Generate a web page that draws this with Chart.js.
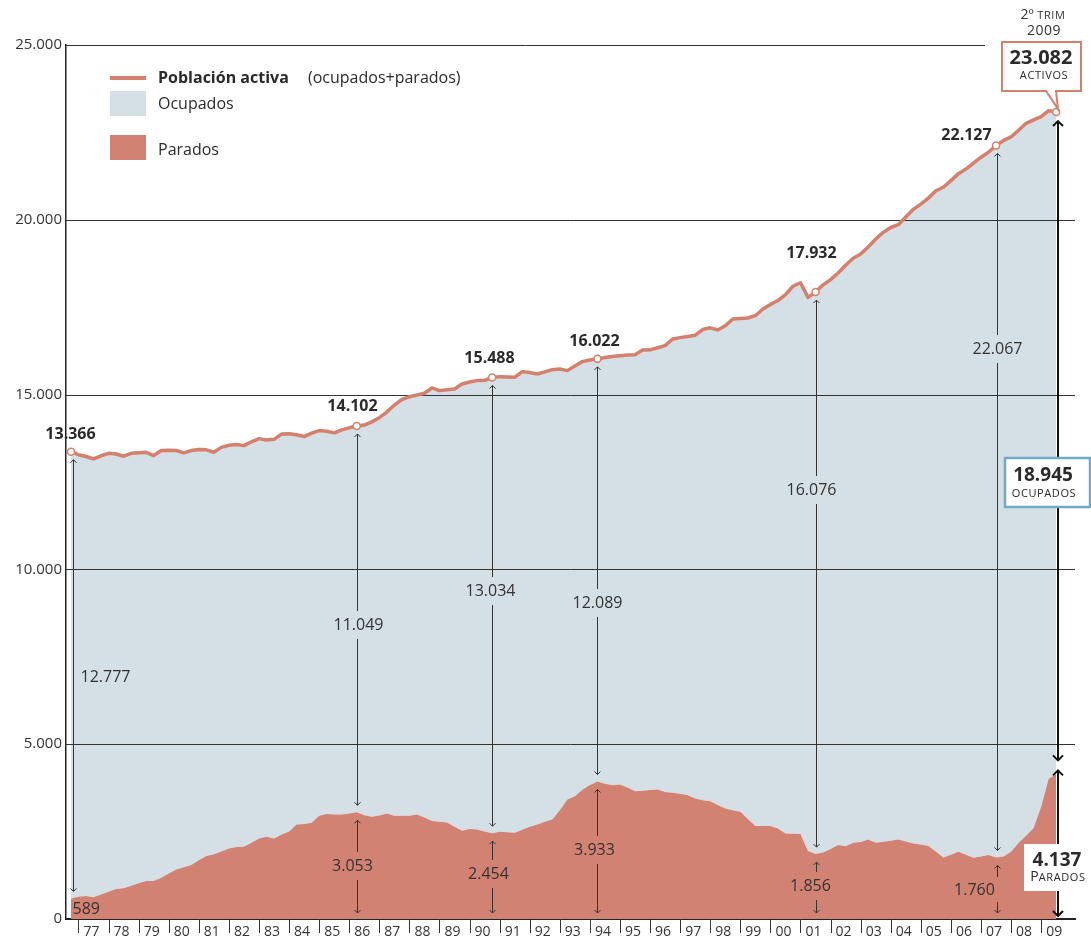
<!DOCTYPE html>
<html>
<head>
<meta charset="utf-8">
<script src="https://cdn.jsdelivr.net/npm/chart.js@4/dist/chart.umd.min.js"></script>
<style>
  html, body { margin: 0; padding: 0; background: #fff; }
  canvas { display: block; }
</style>
</head>
<body>
<canvas id="chart" width="1091" height="942"></canvas>
<script>
// EPA trimestral, miles de personas, 1976 T3 .. 2009 T2
const yearLabels = ['77','78','79','80','81','82','83','84','85','86','87','88','89','90','91','92','93',
    '94','95','96','97','98','99','00','01','02','03','04','05','06','07','08','09'];

const activa = [
    13366, 13280, 13230, 13160, 13250, 13320, 13300, 13237, 13320, 13340,
    13350, 13257, 13400, 13410, 13400, 13333, 13400, 13430, 13420, 13351,
    13490, 13550, 13570, 13540, 13650, 13740, 13700, 13720, 13870, 13880,
    13850, 13800, 13900, 13970, 13950, 13905, 13990, 14050, 14102, 14130,
    14220, 14340, 14500, 14700, 14860, 14940, 14990, 15040, 15190, 15114,
    15140, 15162, 15305, 15360, 15400, 15410, 15488, 15514, 15505, 15495,
    15657, 15630, 15590, 15650, 15714, 15730, 15686, 15820, 15943, 15990,
    16022, 16060, 16090, 16110, 16130, 16143, 16276, 16280, 16340, 16400,
    16590, 16630, 16660, 16700, 16860, 16910, 16850, 16970, 17162, 17180,
    17190, 17257, 17450, 17580, 17690, 17860, 18100, 18200, 17781, 17932,
    18140, 18290, 18480, 18700, 18900, 19020, 19220, 19450, 19640, 19780,
    19860, 20080, 20300, 20450, 20620, 20830, 20930, 21120, 21320, 21450,
    21620, 21790, 21930, 22127, 22270, 22370, 22560, 22760, 22860, 22950,
    23120, 23082
];

const parados = [
    589, 640, 657, 620, 700, 780, 857, 880, 950, 1020,
    1086, 1086, 1180, 1300, 1419, 1480, 1543, 1680, 1800, 1850,
    1930, 2020, 2060, 2070, 2180, 2300, 2352, 2305, 2420, 2500,
    2705, 2720, 2752, 2952, 3000, 2990, 2990, 3020, 3053, 2970,
    2924, 2960, 3019, 2952, 2950, 2950, 2990, 2900, 2800, 2781,
    2760, 2640, 2524, 2571, 2560, 2500, 2454, 2495, 2480, 2467,
    2550, 2638, 2700, 2780, 2848, 3114, 3419, 3510, 3700, 3830,
    3933, 3870, 3828, 3850, 3760, 3657, 3670, 3690, 3705, 3630,
    3610, 3580, 3543, 3450, 3400, 3371, 3260, 3162, 3110, 3067,
    2860, 2657, 2657, 2657, 2590, 2448, 2440, 2428, 1943, 1856,
    1900, 2000, 2114, 2080, 2181, 2200, 2276, 2181, 2210, 2240,
    2276, 2220, 2162, 2130, 2086, 1930, 1762, 1840, 1924, 1840,
    1752, 1790, 1829, 1760, 1790, 1924, 2180, 2380, 2600, 3210,
    4010, 4137
];

// quarters that get a marker, and the "ocupados" figures as printed on the chart
const markerIdx = [0, 38, 56, 70, 99, 123, 131];
const ocupadosLabels = ['12.777', '11.049', '13.034', '12.089', '16.076', '22.067', '18.945'];

const yTicks = [0, 5000, 10000, 15000, 20000, 25000];

const SALMON = '#d4806d';
const RED = '#d28272';
const BLUE = '#d4dfe6';
const INK = '#2a2a2a';
const FONT = '"Open Sans", "Noto Sans", sans-serif';

const fmt = v => String(Math.round(v)).replace(/\B(?=(\d{3})+(?!\d))/g, '.');

// per-marker label placement (pixel offsets)
const place = [
    { dx: 2,  act: [-3, -17],  ocup: { y: 677, dx: 7, align: 'left' }, par: { y: 909, dx: -1, align: 'left', noArrow: true } },
    { dx: 0,  act: [-5, -20],  ocup: { y: 625, dx: 1 },  par: { y: 866, dx: -5 } },
    { dx: 0,  act: [-3, -19],  ocup: { y: 591, dx: -2 }, par: { y: 874, dx: -4 } },
    { dx: 0,  act: [-3, -17],  ocup: { y: 603, dx: 0 },  par: { y: 850, dx: -3 } },
    { dx: 0,  act: [-5, -39],  ocup: { y: 490, dx: -5 }, par: { y: 886, dx: -6 } },
    { dx: 1,  act: [-31, -10], ocup: { y: 349, dx: 0 },  par: { y: 890, dx: -23, offside: true } }
];

function line(ctx, x1, y1, x2, y2) {
    ctx.beginPath();
    ctx.moveTo(x1, y1);
    ctx.lineTo(x2, y2);
    ctx.stroke();
}

function head(ctx, x, y, dir, s) {
    ctx.beginPath();
    ctx.moveTo(x - s, y - dir * s);
    ctx.lineTo(x, y);
    ctx.lineTo(x + s, y - dir * s);
    ctx.stroke();
}

// vertical double arrow with an optional gap for its label
function arrow(ctx, x, y1, y2, gap, s) {
    if (gap) {
        line(ctx, x, y1, x, gap[0]);
        line(ctx, x, gap[1], x, y2);
    } else {
        line(ctx, x, y1, x, y2);
    }
    head(ctx, x, y1, -1, s);
    head(ctx, x, y2, 1, s);
}

const annotations = {
    id: 'annotations',
    beforeDatasetsDraw(chart) {
        const { ctx, chartArea: a, scales: { y } } = chart;
        ctx.save();
        ctx.strokeStyle = '#333';
        ctx.lineWidth = 1;
        yTicks.slice(1).forEach(v => {
            const py = Math.round(y.getPixelForValue(v)) + 0.5;
            line(ctx, a.left, py, v === 25000 ? 985 : a.right, py);
        });
        ctx.restore();
    },
    afterDatasetsDraw(chart) {
        const { ctx, chartArea: a, scales: { x, y } } = chart;
        ctx.save();

        // year tick marks under the axis
        ctx.strokeStyle = '#333';
        ctx.lineWidth = 1;
        x.ticks.forEach(t => {
            const px = Math.round(x.getPixelForValue(t.value)) + 0.5;
            line(ctx, px, a.bottom, px, a.bottom + 14);
        });

        // legend
        ctx.fillStyle = SALMON;
        ctx.fillRect(110, 76, 36, 4);
        ctx.fillStyle = BLUE;
        ctx.fillRect(110, 91, 36, 25);
        ctx.fillStyle = RED;
        ctx.fillRect(110, 135, 36, 25);
        ctx.textBaseline = 'middle';
        ctx.textAlign = 'left';
        ctx.fillStyle = INK;
        ctx.font = 'bold 16px ' + FONT;
        ctx.fillText('Población activa', 158, 78);
        ctx.font = '16px ' + FONT;
        ctx.fillText('(ocupados+parados)', 308, 78);
        ctx.fillText('Ocupados', 158, 104);
        ctx.fillText('Parados', 158, 150);

        // marker annotations
        place.forEach((p, k) => {
            const i = markerIdx[k];
            const px = Math.round(x.getPixelForValue(i)) + p.dx + 0.5;
            const yAct = y.getPixelForValue(activa[i]);
            const yPar = y.getPixelForValue(parados[i]);
            const y0 = y.getPixelForValue(0);

            ctx.textAlign = 'center';
            ctx.fillStyle = INK;
            ctx.font = 'bold 16px ' + FONT;
            ctx.fillText(fmt(activa[i]), px + p.act[0], yAct + p.act[1]);

            ctx.strokeStyle = '#333';
            ctx.lineWidth = 1;
            const oTop = yAct + 8, oBot = yPar - 7;
            if (p.ocup.align === 'left') {
                arrow(ctx, px, oTop, oBot, null, 3);
            } else {
                arrow(ctx, px, oTop, oBot, [p.ocup.y - 14, p.ocup.y + 14], 3);
            }
            ctx.font = '16px ' + FONT;
            ctx.fillStyle = '#333';
            ctx.textAlign = p.ocup.align || 'center';
            ctx.fillText(ocupadosLabels[k], px + p.ocup.dx, p.ocup.y);

            if (!p.par.noArrow) {
                const pTop = yPar + 8, pBot = y0 - 6;
                const gap = p.par.offside ? [p.par.y - 13, p.par.y + 12] : [p.par.y - 14, p.par.y + 14];
                arrow(ctx, px, pTop, pBot, gap, 3);
            }
            ctx.textAlign = p.par.align || 'center';
            ctx.fillText(fmt(parados[i]), px + p.par.dx, p.par.y);
        });

        // last quarter: big arrows and boxes
        const iL = markerIdx[markerIdx.length - 1];
        const xL = Math.round(x.getPixelForValue(iL)) + 2;
        const yActL = y.getPixelForValue(activa[iL]);
        const yParL = y.getPixelForValue(parados[iL]);
        ctx.strokeStyle = '#111';
        ctx.lineWidth = 2;
        arrow(ctx, xL, yActL + 9, yParL - 14, null, 5);
        arrow(ctx, xL, yParL - 4, a.bottom - 3, null, 5);

        // activos callout
        ctx.fillStyle = '#fff';
        ctx.strokeStyle = SALMON;
        ctx.lineWidth = 2;
        ctx.beginPath();
        ctx.moveTo(1002, 42);
        ctx.lineTo(1081, 42);
        ctx.lineTo(1081, 91);
        ctx.lineTo(1056, 91);
        ctx.lineTo(1058, yActL - 3);
        ctx.lineTo(1046, 91);
        ctx.lineTo(1002, 91);
        ctx.closePath();
        ctx.fill();
        ctx.stroke();

        ctx.fillStyle = INK;
        ctx.textAlign = 'center';
        ctx.font = 'bold 20px ' + FONT;
        ctx.fillText(fmt(activa[iL]), 1041, 58);
        ctx.font = '11px ' + FONT;
        ctx.letterSpacing = '0.6px';
        ctx.fillText('ACTIVOS', 1044, 76);

        // 2º TRIM 2009
        ctx.fillStyle = '#333';
        ctx.font = '14px ' + FONT;
        ctx.letterSpacing = '0px';
        const w1 = ctx.measureText('2º').width;
        ctx.font = '11px ' + FONT;
        ctx.letterSpacing = '0.6px';
        const w2 = ctx.measureText(' TRIM').width;
        let sx = 1043 - (w1 + w2) / 2;
        ctx.textAlign = 'left';
        ctx.font = '14px ' + FONT;
        ctx.letterSpacing = '0px';
        ctx.fillText('2º', sx, 15);
        ctx.font = '11px ' + FONT;
        ctx.letterSpacing = '0.6px';
        ctx.fillText(' TRIM', sx + w1, 16);
        ctx.textAlign = 'center';
        ctx.font = '14px ' + FONT;
        ctx.letterSpacing = '0.5px';
        ctx.fillText('2009', 1044, 31);

        // ocupados box
        ctx.fillStyle = '#fff';
        ctx.strokeStyle = '#72a9c3';
        ctx.lineWidth = 2.5;
        ctx.fillRect(1005, 458, 85, 49);
        ctx.strokeRect(1005, 458, 85, 49);
        ctx.fillStyle = INK;
        ctx.letterSpacing = '0px';
        ctx.font = 'bold 19px ' + FONT;
        ctx.fillText(ocupadosLabels[ocupadosLabels.length - 1], 1043, 476);
        ctx.font = '11px ' + FONT;
        ctx.letterSpacing = '0.6px';
        ctx.fillText('OCUPADOS', 1044, 494);

        // parados box
        ctx.fillStyle = '#fff';
        ctx.fillRect(1024, 844, 67, 47);
        ctx.fillStyle = INK;
        ctx.letterSpacing = '0px';
        ctx.font = 'bold 19px ' + FONT;
        ctx.fillText(fmt(parados[iL]), 1057, 861);
        ctx.font = '14px ' + FONT;
        const wP = ctx.measureText('P').width;
        ctx.font = '11px ' + FONT;
        ctx.letterSpacing = '0.6px';
        const wR = ctx.measureText('ARADOS').width;
        sx = 1058 - (wP + wR) / 2;
        ctx.textAlign = 'left';
        ctx.font = '14px ' + FONT;
        ctx.letterSpacing = '0px';
        ctx.fillText('P', sx, 877);
        ctx.font = '11px ' + FONT;
        ctx.letterSpacing = '0.6px';
        ctx.fillText('ARADOS', sx + wP, 878);

        ctx.restore();
    }
};

Chart.defaults.font.family = FONT;
Chart.defaults.color = '#333';

new Chart(document.getElementById('chart'), {
    type: 'line',
    data: {
        datasets: [
            {
                label: 'Parados',
                data: parados.map((v, i) => ({ x: i, y: v })),
                fill: 'origin',
                backgroundColor: RED,
                borderWidth: 0,
                pointRadius: 0,
                tension: 0
            },
            {
                label: 'Población activa',
                data: activa.map((v, i) => ({ x: i, y: v })),
                fill: '-1',
                backgroundColor: BLUE,
                borderColor: SALMON,
                borderWidth: 3.5,
                borderJoinStyle: 'round',
                borderCapStyle: 'round',
                tension: 0,
                pointRadius: ctx => markerIdx.includes(ctx.dataIndex) ? 3.5 : 0,
                pointBackgroundColor: '#fff',
                pointBorderColor: SALMON,
                pointBorderWidth: 1.5
            }
        ]
    },
    options: {
        responsive: false,
        animation: false,
        devicePixelRatio: 1,
        layout: { padding: { top: 45, right: 16, left: 0, bottom: 0 } },
        plugins: {
            legend: { display: false },
            tooltip: { enabled: false },
            filler: { drawTime: 'beforeDatasetsDraw' }
        },
        scales: {
            x: {
                type: 'linear',
                min: -0.66,
                max: 133.5,
                afterBuildTicks: scale => {
                    scale.ticks = yearLabels.map((_, k) => ({ value: 1 + 4 * k }));
                },
                afterFit: scale => { scale.height = 23; },
                ticks: {
                    autoSkip: false,
                    maxRotation: 0,
                    padding: 5,
                    labelOffset: 13,
                    font: { size: 14 },
                    color: '#333',
                    callback: (value, index) => yearLabels[index]
                },
                grid: { drawOnChartArea: false, drawTicks: false },
                border: { display: true, color: '#222', width: 2 }
            },
            y: {
                min: 0,
                max: 25000,
                afterBuildTicks: scale => {
                    scale.ticks = yTicks.map(v => ({ value: v }));
                },
                afterFit: scale => { scale.width = 66; },
                ticks: {
                    padding: 4,
                    font: { size: 15 },
                    color: '#333',
                    callback: v => fmt(v)
                },
                grid: { drawOnChartArea: false, drawTicks: false },
                border: { display: true, color: '#222', width: 1.5 }
            }
        }
    },
    plugins: [annotations]
});
</script>
</body>
</html>
